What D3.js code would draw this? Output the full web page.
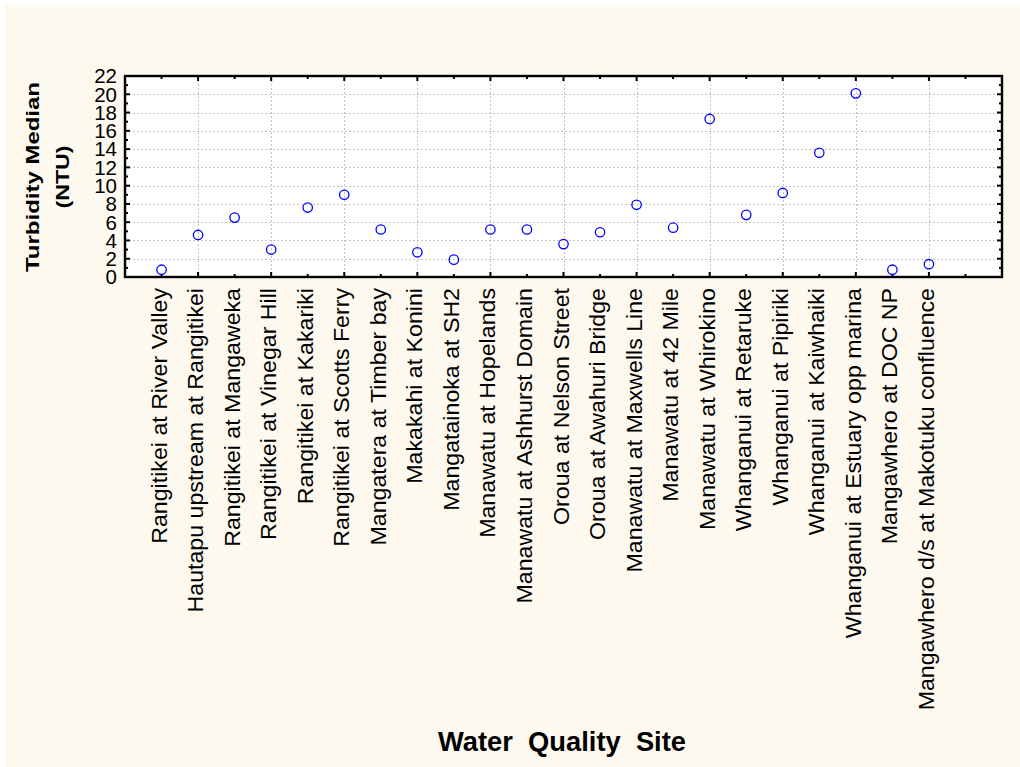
<!DOCTYPE html>
<html>
<head>
<meta charset="utf-8">
<script src="https://cdn.jsdelivr.net/npm/d3@7"></script>
<style>
  html, body { margin: 0; padding: 0; background: #fff; }
  svg { display: block; font-family: "Liberation Sans", Arial, sans-serif; }
</style>
</head>
<body>
<svg id="chart" width="1020" height="767"></svg>
<script>
const sites = [
  'Rangitikei at River Valley',
  'Hautapu upstream at Rangitikei',
  'Rangitikei at Mangaweka',
  'Rangitikei at Vinegar Hill',
  'Rangitikei at Kakariki',
  'Rangitikei at Scotts Ferry',
  'Mangatera at Timber bay',
  'Makakahi at Konini',
  'Mangatainoka at SH2',
  'Manawatu at Hopelands',
  'Manawatu at Ashhurst Domain',
  'Oroua at Nelson Street',
  'Oroua at Awahuri Bridge',
  'Manawatu at Maxwells Line',
  'Manawatu at 42 Mile',
  'Manawatu at Whirokino',
  'Whanganui at Retaruke',
  'Whanganui at Pipiriki',
  'Whanganui at Kaiwhaiki',
  'Whanganui at Estuary opp marina',
  'Mangawhero at DOC NP',
  'Mangawhero d/s at Makotuku confluence'
];
const turbidity = [0.8, 4.6, 6.5, 3.0, 7.6, 9.0, 5.2, 2.7, 1.9, 5.2, 5.2,
                   3.6, 4.9, 7.9, 5.4, 17.3, 6.8, 9.2, 13.6, 20.1, 0.8, 1.4];
const yTicks = [0, 2, 4, 6, 8, 10, 12, 14, 16, 18, 20, 22];
const yTitle = ['Turbidity Median', '(NTU)'];
const xTitle = 'Water  Quality  Site';

const svg = d3.select('#chart');
const plot = { left: 125, right: 1002, top: 76, bottom: 277 };

// backgrounds
svg.append('rect').attr('x', 0).attr('y', 0).attr('width', 1020).attr('height', 767).attr('fill', '#fff');
svg.append('rect').attr('x', 5).attr('y', 5).attr('width', 1015).attr('height', 762).attr('fill', '#fdf9ef');
svg.append('rect')
  .attr('x', plot.left).attr('y', plot.top)
  .attr('width', plot.right - plot.left).attr('height', plot.bottom - plot.top)
  .attr('fill', '#fff');

const x = d3.scaleLinear().domain([0, sites.length + 2]).range([plot.left, plot.right]);
const y = d3.scaleLinear().domain([0, 22]).range([plot.bottom, plot.top]);

const catTicks = d3.range(1, sites.length + 2);
const unitTicks = d3.range(0, 23);

// grid
const grid = svg.append('g').attr('stroke', '#c4c4c4').attr('stroke-width', 1).attr('stroke-dasharray', '2,2');
grid.selectAll('line.h')
  .data(yTicks.filter(v => v > 0 && v < 22))
  .join('line')
  .attr('x1', plot.left).attr('x2', plot.right)
  .attr('y1', d => Math.round(y(d)) + 0.5).attr('y2', d => Math.round(y(d)) + 0.5);
grid.selectAll('line.v')
  .data(catTicks.filter(c => c % 2 === 0 && c <= sites.length))
  .join('line')
  .attr('x1', d => Math.round(x(d)) + 0.5).attr('x2', d => Math.round(x(d)) + 0.5)
  .attr('y1', plot.top).attr('y2', plot.bottom);

// inward ticks on all four sides
const ticks = svg.append('g').attr('stroke', '#000').attr('stroke-width', 2);
[[plot.top, 1], [plot.bottom, -1]].forEach(([yy, dir]) => {
  ticks.selectAll(null)
    .data(catTicks)
    .join('line')
    .attr('x1', d => x(d)).attr('x2', d => x(d))
    .attr('y1', yy).attr('y2', d => yy + dir * (d % 2 === 0 ? 5 : 3));
});
[[plot.left, 1], [plot.right, -1]].forEach(([xx, dir]) => {
  ticks.selectAll(null)
    .data(unitTicks)
    .join('line')
    .attr('y1', d => y(d)).attr('y2', d => y(d))
    .attr('x1', xx).attr('x2', d => xx + dir * (d % 2 === 0 ? 5 : 3));
});

// frame
svg.append('rect')
  .attr('x', plot.left).attr('y', plot.top)
  .attr('width', plot.right - plot.left).attr('height', plot.bottom - plot.top)
  .attr('fill', 'none').attr('stroke', '#000').attr('stroke-width', 2.4);

// points
svg.append('g').selectAll('circle')
  .data(turbidity)
  .join('circle')
  .attr('cx', (d, i) => x(i + 1))
  .attr('cy', d => y(d))
  .attr('r', 4.7)
  .attr('fill', 'none')
  .attr('stroke', '#0000ff')
  .attr('stroke-width', 1.3);

// y tick labels
svg.append('g').selectAll('text')
  .data(yTicks)
  .join('text')
  .attr('x', 117)
  .attr('y', d => y(d))
  .attr('dy', '0.36em')
  .attr('text-anchor', 'end')
  .style('font-size', '20.5px')
  .text(d => d);

// x category labels
svg.append('g').selectAll('text')
  .data(sites)
  .join('text')
  .attr('transform', (d, i) => `translate(${x(i + 1)},288) rotate(-90) scale(1.03,1)`)
  .attr('y', 5)
  .attr('text-anchor', 'end')
  .style('font-size', '22.5px')
  .text(d => d);

// y title
const yt = svg.append('g').attr('transform', 'translate(0,177) rotate(-90)');
yt.append('text')
  .attr('x', 0).attr('y', 38.5)
  .attr('text-anchor', 'middle')
  .attr('textLength', 190).attr('lengthAdjust', 'spacingAndGlyphs')
  .style('font-size', '17.5px').style('font-weight', 'bold')
  .text(yTitle[0]);
yt.append('text')
  .attr('x', 0).attr('y', 68.5)
  .attr('text-anchor', 'middle')
  .attr('textLength', 63).attr('lengthAdjust', 'spacingAndGlyphs')
  .style('font-size', '17.5px').style('font-weight', 'bold')
  .text(yTitle[1]);

// x title
svg.append('text')
  .attr('x', 562).attr('y', 751)
  .attr('text-anchor', 'middle')
  .attr('textLength', 248).attr('lengthAdjust', 'spacingAndGlyphs')
  .style('font-size', '27px').style('font-weight', 'bold')
  .style('white-space', 'pre')
  .text(xTitle);
</script>
</body>
</html>
